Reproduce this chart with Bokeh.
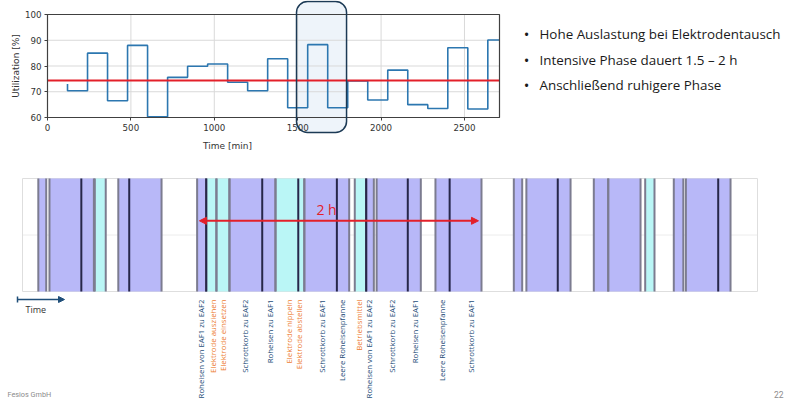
import math
from bokeh.plotting import figure
from bokeh.models import (Range1d, FixedTicker, BoxAnnotation, Label, LabelSet, LinearAxis,
                          ColumnDataSource, Arrow, NormalHead, TeeHead)
from bokeh.embed import file_html
from bokeh.resources import INLINE
from bokeh.core.properties import value

# ---------------- data: utilization (top chart) ----------------
time_min = [120, 240, 360, 480, 600, 720, 840, 960, 1080, 1200, 1320, 1440,
            1560, 1680, 1800, 1920, 2040, 2160, 2280, 2400, 2520, 2640, 2710]
util_pct = [73.0, 70.4, 85.0, 66.5, 88.0, 60.3, 75.6, 79.9, 80.8, 73.7, 70.4, 82.8,
            63.8, 88.3, 63.8, 74.2, 66.8, 78.4, 65.0, 63.5, 87.1, 63.3, 90.1]
mean_util = 74.4
x_ticks = [0, 500, 1000, 1500, 2000, 2500]
y_ticks = [60, 70, 80, 90, 100]
t_range = [0, 2710]
u_range = [60, 100]
highlight_window = [1493, 1793]   # minutes

bullets = ["Hohe Auslastung bei Elektrodentausch",
           "Intensive Phase dauert 1.5 \u2013 2 h",
           "Anschlie\u00dfend ruhigere Phase"]

# ---------------- data: operations timeline (bottom chart) ----------------
seg_start = [6.8, 11.6, 31.1, 41.2, 75.1, 79.0, 83.4, 89.0, 108.8, 121.2, 142.9,
             147.8, 152.3, 177.6, 211.3, 216.7, 245.7, 251.9, 267.8, 280.1, 285.3]
seg_end = [10.2, 30.7, 35.8, 59.8, 79.0, 83.4, 89.0, 108.8, 121.2, 140.5, 147.8,
           151.1, 171.3, 197.4, 214.9, 235.7, 251.9, 265.8, 271.8, 284.2, 304.5]
seg_kind = ["P", "P", "C", "P", "P", "C", "C", "P", "C", "P", "C",
            "P", "P", "P", "P", "P", "P", "P", "C", "P", "P"]
event_t = [25.3, 45.9, 79.0, 103.1, 118.6, 135.2, 147.8, 165.7, 183.7, 230.2, 299.2]

label_t = [76.6, 81.9, 86.2, 95.9, 106.4, 114.5, 118.8, 129.0, 137.5, 144.6,
           148.9, 159.0, 168.7, 180.5, 192.7]
label_text = ["Roheisen von EAF1 zu EAF2", "Elektrode ausziehen", "Elektrode einsetzen",
              "Schrottkorb zu EAF2", "Roheisen zu EAF1", "Elektrode nippeln",
              "Elektrode abstellen", "Schrottkorb zu EAF1", "Leere Roheisenpfanne",
              "Betriebsmittel", "Roheisen von EAF1 zu EAF2", "Schrottkorb zu EAF2",
              "Roheisen zu EAF1", "Leere Roheisenpfanne", "Schrottkorb zu EAF1"]
label_kind = ["op", "el", "el", "op", "op", "el", "el", "op", "op", "el",
              "op", "op", "op", "op", "op"]
phase_start = 76.1
phase_len = 120.0   # 2 h in minutes
g_range = [0, 316.1]
lane = [0, 1]

# ---------------- styling / layout (slide pixel coordinates) ----------------
FILL = {"P": "#b8b8f8", "C": "#baf6f6"}
TXT = {"op": "#1f4e79", "el": "#ed7d31"}
RED = "#e3202a"
NAVY = "#1f4e79"
FONT = "Open Sans"
W, H = 784, 400
CX0, CY0 = 0, 0                 # slide pixel at canvas origin
CX1, CY1 = CX0 + W, CY0 + H

# plot boxes on the slide (px)
TOP_BOX = (47, 499, 14, 117)     # left, right, top, bottom
GANTT_BOX = (22, 757, 178, 291)


def range_for(d0, d1, p0, p1, c0, c1):
    """Range whose values d0..d1 fall on pixels p0..p1, extended to canvas c0..c1."""
    k = (d1 - d0) / (p1 - p0)
    return Range1d(start=d0 + (c0 - p0) * k, end=d0 + (c1 - p0) * k)


p = figure(width=W, height=H, output_backend="svg", toolbar_location=None,
           x_range=Range1d(CX0, CX1), y_range=Range1d(CY1, CY0),
           x_axis_type=None, y_axis_type=None, min_border=0)
p.outline_line_color = None
p.background_fill_color = "white"
p.border_fill_color = "white"

p.extra_x_ranges = {
    "ut": range_for(t_range[0], t_range[1], TOP_BOX[0], TOP_BOX[1], CX0, CX1),
    "gt": range_for(g_range[0], g_range[1], GANTT_BOX[0], GANTT_BOX[1], CX0, CX1),
}
p.extra_y_ranges = {
    "uy": range_for(u_range[0], u_range[1], TOP_BOX[3], TOP_BOX[2], CY1, CY0),
    "gy": range_for(lane[0], lane[1], GANTT_BOX[3], GANTT_BOX[2], CY1, CY0),
}
U = dict(x_range_name="ut", y_range_name="uy")
G = dict(x_range_name="gt", y_range_name="gy")

# ---------------- top chart ----------------
p.add_layout(BoxAnnotation(left=highlight_window[0], right=highlight_window[1],
                           top=1, bottom=132, x_range_name="ut",
                           fill_color="#e3edf7", fill_alpha=0.6, line_color=None,
                           border_radius=11, level="underlay"))
# grid
p.segment(x0=x_ticks, y0=[u_range[0]] * len(x_ticks), x1=x_ticks,
          y1=[u_range[1]] * len(x_ticks), line_color="#d9d9d9", line_width=1, **U)
p.segment(x0=[t_range[0]] * len(y_ticks), y0=y_ticks, x1=[t_range[1]] * len(y_ticks),
          y1=y_ticks, line_color="#d9d9d9", line_width=1, **U)
p.step(time_min, util_pct, mode="before", line_color="#2c77b0", line_width=1.6, **U)
p.segment(x0=[t_range[0]], y0=[mean_util], x1=[t_range[1]], y1=[mean_util],
          line_color=RED, line_width=2, **U)
p.quad(left=[t_range[0]], right=[t_range[1]], bottom=[u_range[0]], top=[u_range[1]],
       fill_color=None, line_color="#404040", line_width=1.2, **U)

xa = LinearAxis(fixed_location=u_range[0], bounds=tuple(t_range),
                ticker=FixedTicker(ticks=x_ticks), **U)
ya = LinearAxis(fixed_location=t_range[0], bounds=tuple(u_range),
                ticker=FixedTicker(ticks=y_ticks), **U)
for ax in (xa, ya):
    ax.axis_line_color = "#404040"
    ax.major_tick_out = 3
    ax.major_tick_in = 0
    ax.minor_tick_line_color = None
    ax.major_tick_line_color = "#404040"
    ax.major_label_text_font = "DejaVu Sans"
    ax.major_label_text_font_size = "8.7px"
    ax.major_label_text_color = "#333333"
    ax.major_label_standoff = 3
p.add_layout(xa, "below")
p.add_layout(ya, "left")

p.add_layout(BoxAnnotation(left=highlight_window[0], right=highlight_window[1],
                           top=1, bottom=132, x_range_name="ut",
                           fill_color=None, line_color="#1c3a55", line_alpha=1,
                           line_width=1.5, border_radius=11))

p.add_layout(Label(x=15, y=65.5, text="Utilization [%]", angle=math.pi / 2,
                   text_align="center", text_baseline="middle", text_font="DejaVu Sans",
                   text_font_size="9px", text_color="#333333"))
p.add_layout(Label(x=227, y=145.5, text="Time [min]", text_align="center",
                   text_baseline="middle", text_font="DejaVu Sans",
                   text_font_size="9px", text_color="#333333"))

for b, yc in zip(bullets, [33.3, 59.3, 84.0]):
    p.add_layout(Label(x=526, y=yc, text="\u2022", text_align="center",
                       text_baseline="middle", text_font=FONT, text_font_size="15px",
                       text_color="#1a1a1a"))
    p.add_layout(Label(x=539, y=yc, text=b, text_align="left",
                       text_baseline="middle", text_font=FONT, text_font_size="13.4px",
                       text_color="#1a1a1a"))

# ---------------- bottom chart (timeline) ----------------
p.segment(x0=[g_range[0]], y0=[0.5], x1=[g_range[1]], y1=[0.5],
          line_color="#ececec", line_width=1, **G)
p.quad(left=[g_range[0]], right=[g_range[1]], bottom=[lane[0]], top=[lane[1]],
       fill_color=None, line_color="#dedede", line_width=1, **G)

seg_src = ColumnDataSource(dict(left=seg_start, right=seg_end,
                                color=[FILL[k] for k in seg_kind]))
p.quad(left="left", right="right", bottom=lane[0], top=lane[1], fill_color="color",
       line_color=None, source=seg_src, **G)
edges = seg_start + seg_end
p.segment(x0=edges, y0=[lane[0]] * len(edges), x1=edges, y1=[lane[1]] * len(edges),
          line_color="#7c7c90", line_width=2, **G)
p.segment(x0=event_t, y0=[lane[0]] * len(event_t), x1=event_t,
          y1=[lane[1]] * len(event_t), line_color="#27274a", line_width=2, **G)

p.add_layout(Arrow(start=NormalHead(size=7, fill_color=RED, line_color=RED),
                   end=NormalHead(size=7, fill_color=RED, line_color=RED),
                   x_start=phase_start, y_start=220.3,
                   x_end=phase_start + phase_len, y_end=220.3,
                   x_range_name="gt", line_color=RED, line_width=2))
p.add_layout(Label(x=326, y=209, text="2 h", text_align="center",
                   text_baseline="middle", text_font=FONT, text_font_size="14px",
                   text_color=RED))

p.add_layout(Arrow(start=TeeHead(size=6, line_color=NAVY, line_width=1.5),
                   end=NormalHead(size=6, fill_color=NAVY, line_color=NAVY),
                   x_start=17, y_start=299, x_end=64, y_end=299,
                   line_color=NAVY, line_width=1.5))
p.add_layout(Label(x=25, y=308.5, text="Time", text_align="left",
                   text_baseline="middle", text_font=FONT, text_font_size="9px",
                   text_color="#333333"))

lab_src = ColumnDataSource(dict(x=label_t, y=[299] * len(label_t), text=label_text,
                                color=[TXT[k] for k in label_kind]))
p.add_layout(LabelSet(x="x", y="y", text="text", source=lab_src, angle=math.pi / 2,
                      x_range_name="gt", text_align="right", text_baseline="middle",
                      text_font=value(FONT), text_font_size="7.8px",
                      text_color="color"))

p.add_layout(Label(x=7, y=394, text="Fesios GmbH", text_align="left",
                   text_baseline="middle", text_font="Roboto",
                   text_font_size="7.3px", text_color="#8c8c8c"))
p.add_layout(Label(x=783, y=394, text="22", text_align="right",
                   text_baseline="middle", text_font="Roboto",
                   text_font_size="8.5px", text_color="#8c8c8c"))

open("out.html", "w").write(file_html(p, INLINE))
